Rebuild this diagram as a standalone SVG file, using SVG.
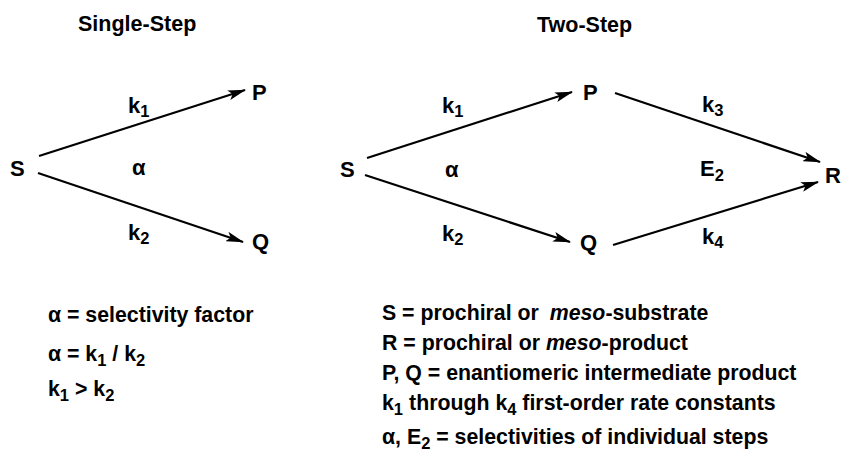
<svg xmlns="http://www.w3.org/2000/svg" width="842" height="459" viewBox="0 0 842 459">
<defs>
<style>
text{font-family:"Liberation Sans",Arial,Helvetica,sans-serif;font-weight:bold;fill:#000;}
.t{font-size:21.5px;}
.n{font-size:22px;}
.b{font-size:21.3px;}
.s{font-size:16.5px;}
.i{font-style:italic;}
.c{stroke:#000;stroke-width:2.2;fill:none;marker-end:url(#ah);}
</style>
<marker id="ah" viewBox="0 0 18 10" refX="17" refY="5" markerWidth="18" markerHeight="10" markerUnits="userSpaceOnUse" orient="auto">
<path d="M0,0 L18,5 L0,10 L4,5 Z" fill="#000"/>
</marker>
</defs>
<rect width="842" height="459" fill="#fff"/>

<g id="titles">
<text class="t" x="78" y="31">Single-Step</text>
<text class="t" x="537" y="32">Two-Step</text>
</g>

<g id="connectors">
<line class="c" x1="39" y1="156" x2="245" y2="90"/>
<line class="c" x1="38" y1="173" x2="243" y2="242"/>
<line class="c" x1="367" y1="158" x2="572" y2="92"/>
<line class="c" x1="365" y1="175" x2="570" y2="242"/>
<line class="c" x1="615" y1="93" x2="820" y2="162"/>
<line class="c" x1="613" y1="245" x2="818" y2="182"/>
</g>

<g id="single-S"><text class="n" x="10" y="176">S</text></g>
<g id="single-P"><text class="n" x="252" y="100">P</text></g>
<g id="single-Q"><text class="n" x="252" y="249">Q</text></g>
<g id="single-labels">
<text class="n" x="128" y="113">k<tspan class="s" dy="4">1</tspan></text>
<text class="n" x="132" y="175">α</text>
<text class="n" x="128" y="240">k<tspan class="s" dy="4">2</tspan></text>
</g>

<g id="two-S"><text class="n" x="340" y="177">S</text></g>
<g id="two-P"><text class="n" x="583" y="100">P</text></g>
<g id="two-Q"><text class="n" x="580" y="250">Q</text></g>
<g id="two-R"><text class="n" x="825" y="183">R</text></g>
<g id="two-labels">
<text class="n" x="442" y="113">k<tspan class="s" dy="4">1</tspan></text>
<text class="n" x="445" y="177">α</text>
<text class="n" x="442" y="241">k<tspan class="s" dy="4">2</tspan></text>
<text class="n" x="702" y="112">k<tspan class="s" dy="4">3</tspan></text>
<text class="n" x="700" y="176">E<tspan class="s" dy="5">2</tspan></text>
<text class="n" x="702" y="244">k<tspan class="s" dy="4">4</tspan></text>
</g>

<g id="legend-single">
<text class="b" x="48" y="322">α = selectivity factor</text>
<text class="b" x="48" y="361">α = k<tspan class="s" dy="5">1</tspan><tspan dy="-5"> / k</tspan><tspan class="s" dy="5">2</tspan></text>
<text class="b" x="48" y="396">k<tspan class="s" dy="5">1</tspan><tspan dy="-5"> &gt; k</tspan><tspan class="s" dy="5">2</tspan></text>
</g>

<g id="legend-two">
<text class="b" x="382" y="320">S = prochiral or <tspan class="i" dx="5">meso</tspan>-substrate</text>
<text class="b" x="382" y="350">R = prochiral or <tspan class="i">meso</tspan>-product</text>
<text class="b" x="382" y="380">P, Q = enantiomeric intermediate product</text>
<text class="b" x="382" y="410">k<tspan class="s" dy="5">1</tspan><tspan dy="-5" dx="6">through k</tspan><tspan class="s" dy="5">4</tspan><tspan dy="-5"> first-order rate constants</tspan></text>
<text class="b" x="382" y="444">α, E<tspan class="s" dy="5">2</tspan><tspan dy="-5"> = selectivities of individual steps</tspan></text>
</g>
</svg>
